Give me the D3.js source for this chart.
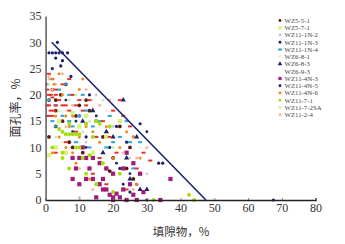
<!DOCTYPE html>
<html><head><meta charset="utf-8">
<script src="https://cdn.jsdelivr.net/npm/d3@7"></script>
<style>body{margin:0;background:#fff}svg{display:block}</style>
</head><body>
<script>
const seriesNames = ["WZ5-5-1","WZ5-7-1","WZ11-1N-2","WZ11-1N-3","WZ11-1N-4","WZ6-8-1","WZ6-8-3","WZ6-9-3","WZ11-4N-3","WZ11-4N-5","WZ11-4N-6","WZ11-7-1","WZ11-7-2SA","WZ11-2-4"];
const xTicks = [0,10,20,30,40,50,60,70,80];
const yTicks = [0,5,10,15,20,25,30,35];
const boundaryX = [1.8, 47.5];
const boundaryY = [30, 0];

const wz551 = [[1,19],[3,19],[4.5,20],[6,22],[10,18],[12,19],[13,17],[3,14],[1,12],[7,11],[8,10],[11,9],[14,8],[18,6],[19,5.5],[22,14],[25,10],[24,6],[26,4],[5,15],[9,16],[15,15],[17,12],[20,8],[3,17],[2,21]];
const wz571 = [[1,8.5],[3,10],[6,9],[10,14],[14,9],[18,12],[22,15],[8,16.5],[4,15],[12,16]];
const wz111n2 = [[1,23],[3,22],[10,0.5],[20,14],[15,20],[25,8],[30,5],[8,20],[12,11]];
const wz111n3 = [[1,28],[2,28],[3,28],[4,28],[5,28],[6.5,28],[3,27],[3.5,30],[4.5,25.5],[5,26.5],[7.5,23.5],[2,25],[10,16],[13,20],[21,14],[24,11],[28,14.5],[19,10],[33.5,7],[34.7,7],[30,0],[67.5,0],[27,3],[16,7],[22,6],[12,12],[25,1.5]];
const wz111n4 = [[1,19],[3,18],[5,16],[7,15],[2,15],[8,14],[10,16],[12,17],[14,14],[16,15],[6,22],[4,21],[9,11],[13,10],[18,10],[20,11],[22,12],[25,11],[28,11],[24,15],[11,20],[3,14],[26,6],[19,16],[15,12],[7,20]];
const wz681 = [[2,20],[6,17],[14,19],[9,15],[5,11],[18,17],[28,10]];
const wz683 = [[14,17],[23,19],[27,12],[20,12],[25,4],[28,2],[11,15],[18,13],[30,2],[17,9],[24,8]];
const wz693 = [[0.5,22],[0.5,21],[1,20],[1.5,20],[2,19.5],[0.5,18],[1,18],[1.5,17],[2.5,17],[3,18],[0.5,16],[1,16],[2,16],[3,20],[4,19],[5,18],[6,18],[7,17],[8,20],[9,18],[10,19],[11,17],[12,18],[13,19],[5,22],[2,23],[1,24],[3,21],[7,23],[9,13],[6,11],[3,9],[15,12],[17,15],[20,17],[22,19],[25,14],[14,5],[18,3],[24,2],[27,6],[29,9],[31,7.5],[21,9],[16,8],[19,12],[23,16]];
const wz114n3 = [[8,8],[10,8],[12,8],[14,8],[9,6],[13,6],[16,7],[18,6],[20,5],[12,4],[14,4],[8,4],[10,3],[16,3],[18,2],[17,2],[19,1],[20,0.5],[22,0.5],[21,1.2],[23,2],[25,3],[26,1],[27,0],[24,0],[20,0],[34,0],[37,4],[23,6],[26,7],[29,1.5],[15,0.5],[24,9],[11,10],[17,4],[28,5]];
const wz114n5 = [[6,19],[9,15],[15,16],[26,12],[30,13],[23,3],[21,7],[12,10],[8,13],[25,5]];
const wz114n6 = [[2,23],[2.5,22],[4,24],[5,20],[3,16],[6,16],[8,16],[4,12],[6,10],[8,9],[2,9],[10,12],[12,14],[14,13],[16,11],[18,14],[20,8],[22,10],[24,13],[26,12],[28,8],[7,14],[9,7],[13,4],[27,3],[11,23],[10,21]];
const wz1171 = [[5,13],[6,12.5],[7,12.5],[8,12.5],[9,12.5],[10,12.5],[7,14.5],[9,10],[10,10],[5,9],[4,13.5],[12,14.5],[14,12],[15,15],[16,14.5],[19,14],[7,6],[12,5],[13,8.5],[15,3],[20,1.5],[22,5],[32,0],[44,0],[42.5,1],[11,8],[5,8],[2,10],[17,7]];
const wz1172sa = [[1,22],[4,17],[7,19],[9,20],[13,15],[17,19],[20,10],[3,12],[11,13]];
const wz1124 = [[1,23.5],[2,21],[5,24],[8,18],[12,21],[16,18],[19,19],[23,9],[27,8],[30,10],[6,14],[10,6],[26,2],[14,2]];

const seriesData = [wz551,wz571,wz111n2,wz111n3,wz111n4,wz681,wz683,wz693,wz114n3,wz114n5,wz114n6,wz1171,wz1172sa,wz1124];
const seriesColor = ["#5a1a10","#d4f57a","#c8c8c8","#1a1f6e","#2fa8d8","#f0ecc0","#1a1f6e","#e8302a","#a01c78","#1a1f6e","#f08a1a","#a8dc10","#c8eeb0","#f4b8a0"];
const seriesShape = ["circle","square","circle","circle","dash","circle","triangle","dash","square","circle","circle","circle","circle","circle"];
const seriesSize = [1.9,2.2,1.3,1.6,1.5,1.3,1.4,1.4,2.1,1.4,1.5,2.0,1.5,1.5];

const W=345,H=244;
const svg=d3.select("body").append("svg").attr("width",W).attr("height",H);
const x=d3.scaleLinear().domain([0,80]).range([45.6,315.6]);
const y=d3.scaleLinear().domain([0,35]).range([200,16]);

const g=svg.append("g");
seriesData.forEach((pts,i)=>{
  const c=seriesColor[i], s=seriesSize[i], sh=seriesShape[i];
  pts.forEach(p=>{
    const cx=x(p[0]), cy=y(p[1]);
    if(sh==="circle") g.append("circle").attr("cx",cx).attr("cy",cy).attr("r",s).attr("fill",c);
    else if(sh==="square") g.append("rect").attr("x",cx-s).attr("y",cy-s).attr("width",2*s).attr("height",2*s).attr("fill",c);
    else if(sh==="dash") g.append("rect").attr("x",cx-2).attr("y",cy-s*0.7).attr("width",4).attr("height",s*1.4).attr("fill",c);
    else g.append("path").attr("d",d3.symbol(d3.symbolTriangle,s*s*6)()).attr("transform",`translate(${cx},${cy})`).attr("fill",c);
  });
});

svg.append("line").attr("x1",x(boundaryX[0])).attr("y1",y(boundaryY[0])).attr("x2",x(boundaryX[1])).attr("y2",y(boundaryY[1]))
  .attr("stroke","#1c2270").attr("stroke-width",1.6);

// axes
const xa=svg.append("g").attr("transform","translate(0,200)")
  .call(d3.axisBottom(x).tickValues(xTicks).tickSize(-2).tickPadding(3));
xa.select(".domain").attr("stroke","#222").attr("stroke-width",1.3);
xa.selectAll(".tick line").attr("stroke","#777");
xa.selectAll("text").attr("font-family","Liberation Serif, Times New Roman, serif").attr("font-size",12).attr("fill","#333");

const ya=svg.append("g").attr("transform","translate(45.6,0)")
  .call(d3.axisLeft(y).tickValues(yTicks).tickSize(0).tickPadding(4));
ya.select(".domain").attr("stroke","#666").attr("stroke-width",1.6);
ya.selectAll("text").attr("font-family","Liberation Serif, Times New Roman, serif").attr("font-size",12).attr("fill","#333");

svg.append("text").attr("x",181).attr("y",236).attr("text-anchor","middle")
  .attr("font-family","Noto Sans CJK SC").attr("font-size",11.5).attr("fill","#333").text("填隙物，%");
svg.append("text").attr("transform","translate(20,108) rotate(-90)").attr("text-anchor","middle")
  .attr("font-family","Noto Sans CJK SC").attr("font-size",12).attr("fill","#333").text("面孔率，%");

// legend
const lg=svg.append("g");
seriesNames.forEach((n,i)=>{
  const ly=20.5+i*7.25, lx=280;
  const c=seriesColor[i], sh=seriesShape[i];
  if(sh==="square") lg.append("rect").attr("x",lx-1.6).attr("y",ly-1.6).attr("width",3.2).attr("height",3.2).attr("fill",c);
  else if(sh==="dash") { if(n!=="WZ6-9-3") lg.append("rect").attr("x",lx-2).attr("y",ly-1).attr("width",4).attr("height",2).attr("fill",c); }
  else if(sh==="triangle") lg.append("path").attr("d",d3.symbol(d3.symbolTriangle,9)()).attr("transform",`translate(${lx},${ly})`).attr("fill",c);
  else lg.append("circle").attr("cx",lx).attr("cy",ly).attr("r",1.4).attr("fill",c);
  lg.append("text").attr("x",lx+4.5).attr("y",ly+2.3).attr("font-family","Liberation Serif, Times New Roman, serif")
    .attr("font-size",6.8).attr("fill","#444").text(n);
});
</script>
</body></html>
